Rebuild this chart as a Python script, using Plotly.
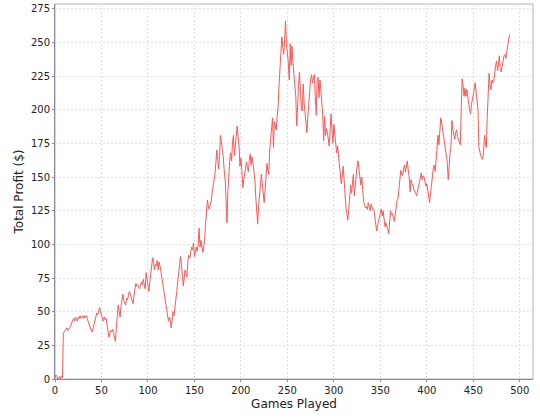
import plotly.graph_objects as go

# Total profit after each game
profit = [
    1, 3, 2, 0, 1, 2, 0, 2, 1, 34,            # 0-9
    35, 36, 37, 38, 36, 37, 38, 40, 42, 44,   # 10-19
    45, 43, 46, 45, 43, 46, 45, 47, 45, 46,   # 20-29
    47, 45, 47, 46, 47, 44, 42, 39, 37, 36,   # 30-39
    35, 38, 42, 45, 47, 49, 48, 51, 53, 50,   # 40-49
    47, 45, 43, 46, 44, 45, 40, 33, 31, 34,   # 50-59
    36, 35, 37, 34, 30, 28, 38, 48, 55, 50,   # 60-69
    46, 54, 60, 63, 58, 56, 55, 60, 59, 62,   # 70-79
    65, 63, 60, 58, 56, 62, 66, 71, 69, 70,   # 80-89
    68, 67, 70, 72, 70, 74, 70, 67, 79, 75,   # 90-99
    70, 65, 72, 80, 85, 90, 86, 81, 85, 84,   # 100-109
    88, 81, 87, 84, 80, 75, 70, 66, 63, 57,   # 110-119
    50, 45, 43, 46, 44, 38, 45, 50, 47, 55,   # 120-129
    63, 65, 72, 80, 86, 91, 85, 76, 69, 75,   # 130-139
    81, 78, 76, 88, 92, 90, 95, 98, 96, 101,  # 140-149
    91, 95, 98, 95, 100, 112, 98, 103, 97, 94,  # 150-159
    98, 103, 115, 123, 133, 128, 126, 130, 132, 138,  # 160-169
    142, 148, 152, 160, 170, 163, 156, 165, 181, 176,  # 170-179
    171, 165, 155, 148, 133, 116, 140, 157, 162, 168,  # 180-189
    162, 176, 181, 166, 174, 182, 188, 180, 173, 158,  # 190-199
    164, 155, 142, 148, 153, 158, 161, 157, 154, 162,  # 200-209
    167, 159, 165, 160, 155, 148, 135, 126, 115, 128,  # 210-219
    138, 145, 152, 145, 136, 131, 140, 148, 160, 155,  # 220-229
    152, 170, 180, 188, 194, 172, 191, 188, 185, 195,  # 230-239
    202, 218, 232, 245, 254, 247, 241, 251, 266, 249,  # 240-249
    242, 235, 222, 249, 233, 247, 235, 226, 218, 210,  # 250-259
    188, 207, 218, 228, 210, 200, 199, 219, 205, 196,  # 260-269
    190, 183, 195, 207, 220, 223, 226, 220, 224, 226,  # 270-279
    210, 196, 221, 224, 209, 222, 215, 205, 196, 177,  # 280-289
    195, 181, 186, 183, 178, 173, 185, 197, 185, 175,  # 290-299
    189, 180, 172, 168, 173, 166, 160, 155, 145, 150,  # 300-309
    158, 148, 135, 127, 123, 118, 126, 135, 144, 138,  # 310-319
    146, 152, 136, 145, 154, 158, 162, 155, 150, 144,  # 320-329
    150, 140, 132, 129, 127, 128, 126, 131, 128, 125,  # 330-339
    130, 128, 126, 126, 120, 117, 110, 114, 118, 121,  # 340-349
    123, 126, 121, 125, 118, 113, 116, 114, 111, 108,  # 350-359
    118, 125, 122, 123, 120, 117, 122, 131, 133, 134,  # 360-369
    142, 147, 155, 152, 151, 156, 159, 154, 160, 162,  # 370-379
    155, 150, 139, 148, 145, 144, 141, 140, 138, 136,  # 380-389
    140, 143, 147, 150, 153, 148, 151, 150, 145, 143,  # 390-399
    145, 140, 135, 131, 138, 147, 150, 157, 159, 154,  # 400-409
    165, 172, 181, 174, 186, 194, 190, 185, 180, 175,  # 410-419
    170, 165, 161, 148, 160, 168, 173, 192, 185, 180,  # 420-429
    178, 183, 185, 180, 178, 176, 174, 200, 223, 218,  # 430-439
    210, 216, 210, 215, 208, 205, 200, 197, 204, 207,  # 440-449
    210, 215, 220, 212, 206, 200, 172, 168, 166, 164,  # 450-459
    163, 168, 181, 176, 172, 195, 215, 227, 218, 215,  # 460-469
    222, 220, 221, 228, 233, 236, 229, 234, 240, 229,  # 470-479
    228, 232, 238, 240, 241, 238, 243, 248, 252, 256,  # 480-489
]
games = list(range(len(profit)))

x_ticks = list(range(0, 501, 50))
y_ticks = list(range(0, 276, 25))

fig = go.Figure()
fig.add_trace(go.Scatter(
    x=games, y=profit, mode="lines",
    line=dict(color="#FF5555", width=1),
    hoverinfo="skip", showlegend=False,
))

axis_common = dict(
    showgrid=True, gridcolor="#e0e0e0", griddash="2px,2px", gridwidth=1,
    showline=True, linecolor="#888898", linewidth=1, mirror=False,
    ticks="outside", ticklen=2, tickcolor="#888898",
    zeroline=False, automargin=False,
    tickfont=dict(family="DejaVu Sans", size=10, color="#222222"),
)

fig.update_layout(
    width=540, height=420,
    margin=dict(l=55, r=7, t=4, b=41),
    paper_bgcolor="white", plot_bgcolor="white",
    xaxis=dict(axis_common, range=[0, 514.2], tickvals=x_ticks,
               title=dict(text="Games Played", standoff=4,
                          font=dict(family="DejaVu Sans", size=12, color="#222222"))),
    yaxis=dict(axis_common, range=[0, 278.5], tickvals=y_ticks,
               title=dict(text="Total Profit ($)", standoff=4,
                          font=dict(family="DejaVu Sans", size=12, color="#222222"))),
    shapes=[dict(type="rect", xref="paper", yref="paper", x0=0, y0=0, x1=1, y1=1,
                 line=dict(color="#b4b4b4", width=1), layer="below")],
)

fig.write_html("out.html", config={"displayModeBar": False},
               post_script="document.body.style.margin='0px';")
